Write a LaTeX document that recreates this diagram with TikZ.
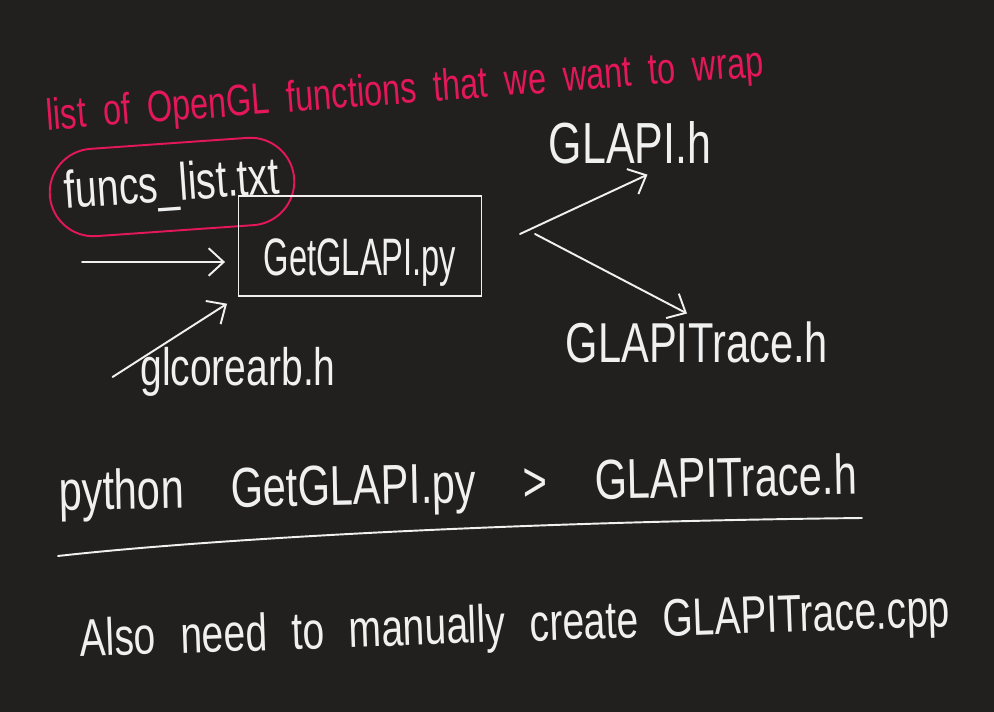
\documentclass[tikz,border=0pt]{standalone}
\usepackage{fontspec}
\newfontfamily\handfont[FakeStretch=0.74]{Liberation Sans}
\newfontfamily\tighthand[FakeStretch=0.62]{Liberation Sans}
\usetikzlibrary{arrows.meta}
\usetikzlibrary{shapes.misc}
\definecolor{board}{RGB}{33,32,31}
\definecolor{penpink}{RGB}{228,22,92}
\definecolor{chalk}{RGB}{240,240,240}
\newcommand{\handsize}[2]{\handfont\fontsize{#1}{#1}\selectfont\spaceskip=#2em\relax}
\tikzset{
  ink/.style={draw=chalk, line width=1.1pt, line cap=round},
  flow/.style={ink, -{Straight Barb[length=3mm,width=5.5mm]}},
  hand/.style={text=chalk, inner sep=0pt, font=\handsize{30}{0.3}},
}

\begin{document}
\begin{tikzpicture}[x=0.02cm,y=-0.02cm]
	\fill [board] (0,0) rectangle (994,712);
	\useasboundingbox (0,0) rectangle (994,712);
	% pink note
	\node [hand, text=penpink, rotate=4.3, font=\handsize{25}{0.39}] (note) at (405,92) {list of OpenGL functions that we want to wrap};
	\node [hand, draw=penpink, line width=1.1pt, rounded rectangle, rotate=4, minimum width=4.9cm, minimum height=1.75cm] (funcs) at (172,187) {funcs\_list.txt};
	% script and outputs
	\node [hand, font=\tighthand\fontsize{30}{36}\selectfont, draw=chalk, line width=1.1pt, minimum width=4.86cm, text height=1.6cm, text depth=0.4cm] (script) at (360,246) {GetGLAPI.py};
	\node [hand] (glcore) at (238,372) {glcorearb.h};
	\node [hand, font=\handsize{33}{0.3}] (glapi) at (630,143) {GLAPI.h};
	\node [hand, font=\handsize{32}{0.3}] (trace) at (697,342) {GLAPITrace.h};
	\coordinate (src) at (82,262);
	\coordinate (split) at (520,234);
	\draw [flow, shorten >=0.25cm] (src) -- (src -| script.west);
	\draw [flow, shorten >=0.25cm] ([xshift=-0.55cm,yshift=-0.1cm]glcore.west) -- (script.south west);
	\draw [flow] (split) -- ([xshift=0.35cm,yshift=-0.2cm]glapi.south);
	\draw [flow] ([xshift=0.3cm]split) -- ([xshift=-0.2cm,yshift=0.15cm]trace.north);
	% command
	\node [hand, rotate=1.2, font=\handsize{32}{0.84}] (cmd) at (458,488) {python GetGLAPI.py > GLAPITrace.h};
	\draw [ink] (58,556) .. controls (200,540) and (500,522) .. (862,518);
	\node [hand, rotate=2, font=\handsize{30}{0.47}] (also) at (515,628) {Also need to manually create GLAPITrace.cpp};
\end{tikzpicture}
\end{document}
